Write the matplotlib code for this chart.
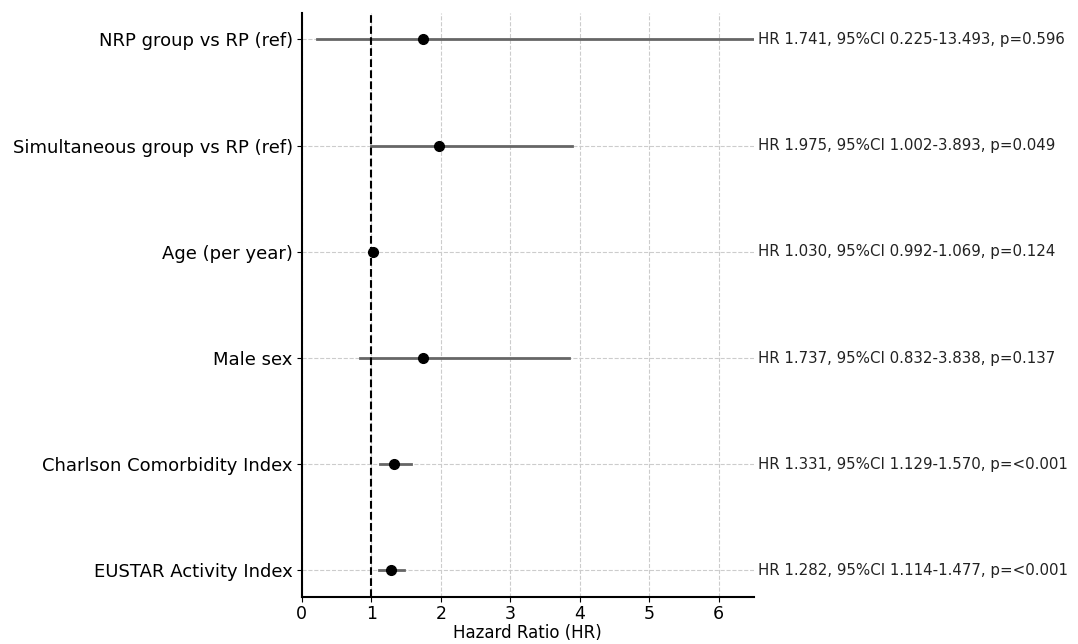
import matplotlib
matplotlib.use("Agg")
import matplotlib.pyplot as plt

labels = ["NRP group vs RP (ref)", "Simultaneous group vs RP (ref)", "Age (per year)",
          "Male sex", "Charlson Comorbidity Index", "EUSTAR Activity Index"]
hr = [1.741, 1.975, 1.030, 1.737, 1.331, 1.282]
lo = [0.225, 1.002, 0.992, 0.832, 1.129, 1.114]
hi = [13.493, 3.893, 1.069, 3.838, 1.570, 1.477]
pvals = ["0.596", "0.049", "0.124", "0.137", "<0.001", "<0.001"]

fig = plt.figure(figsize=(10.78, 6.44), dpi=100)
ax = fig.add_axes([0.280, 0.073, 0.419, 0.907])

n = len(labels)
ys = [n - 1 - i for i in range(n)]
for y, h, l, u, p in zip(ys, hr, lo, hi, pvals):
    ax.plot([l, u], [y, y], color="#666666", lw=2, zorder=2)
    ax.plot(h, y, "o", color="black", ms=7, zorder=3)
    ax.text(6.56, y, f"HR {h:.3f}, 95%CI {l:.3f}-{u:.3f}, p={p}",
            va="center", ha="left", fontsize=10.8, color="#222222", clip_on=False)

ax.axvline(1, color="black", ls="--", lw=1.5, zorder=2)
ax.set_xlim(0, 6.5)
ax.set_ylim(-0.25, n - 1 + 0.25)
ax.set_yticks(ys)
ax.set_yticklabels(labels, fontsize=13)
ax.tick_params(axis="x", labelsize=12.5, pad=2)
ax.tick_params(axis="y", pad=3)
ax.set_xlabel("Hazard Ratio (HR)", fontsize=12, labelpad=1)
ax.grid(True, ls="--", color="#cccccc", lw=0.8, zorder=0)
ax.set_axisbelow(True)
for s in ["top", "right"]:
    ax.spines[s].set_visible(False)
for s in ["left", "bottom"]:
    ax.spines[s].set_linewidth(1.5)

fig.savefig("out.png", dpi=100)
